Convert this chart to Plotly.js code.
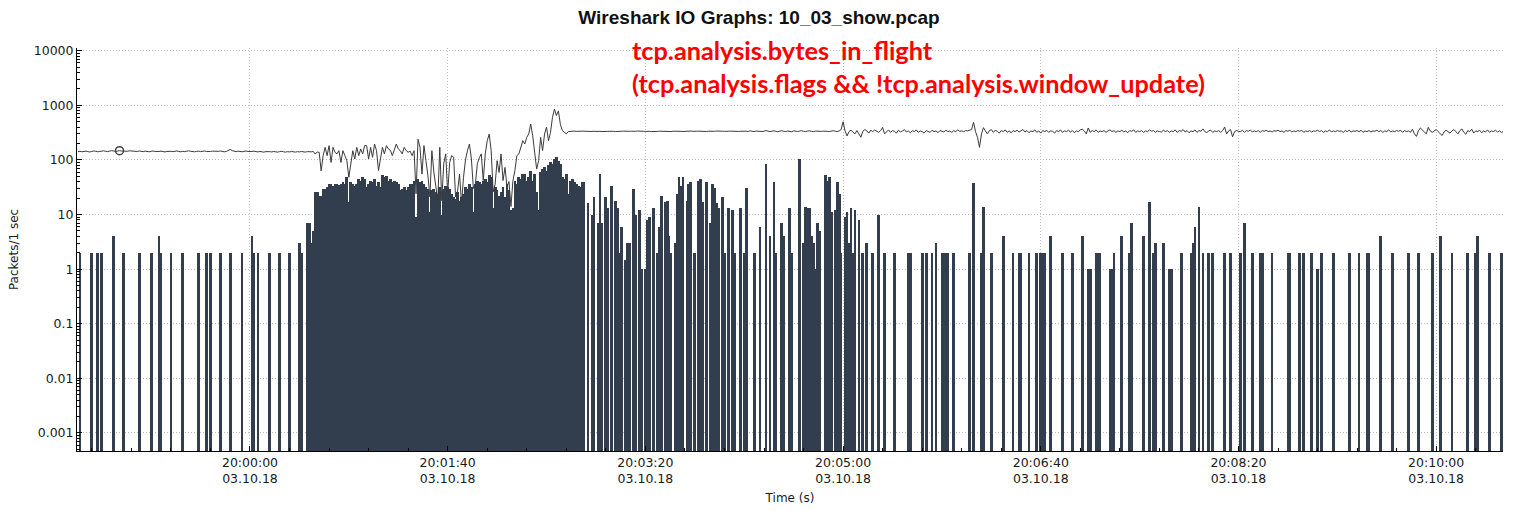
<!DOCTYPE html>
<html><head><meta charset="utf-8">
<script src="https://cdn.plot.ly/plotly-3.0.1.min.js"></script>
<style>html,body{margin:0;padding:0;background:#fff}#chart{width:1518px;height:511px}</style>
</head><body><div id="chart"></div>
<script>
// ---- data (time in seconds relative to 20:00:00, 03.10.18) ----
const chartTitle = 'Wireshark IO Graphs: 10_03_show.pcap';
const noteLines = ['tcp.analysis.bytes_in_flight', '(tcp.analysis.flags &amp;&amp; !tcp.analysis.window_update)'];
const xTickSeconds = [0, 100, 200, 300, 400, 500, 600];
const xTickLabels = ['20:00:00<br>03.10.18', '20:01:40<br>03.10.18', '20:03:20<br>03.10.18', '20:05:00<br>03.10.18', '20:06:40<br>03.10.18', '20:08:20<br>03.10.18', '20:10:00<br>03.10.18'];
const yTickValues = [0.001, 0.01, 0.1, 1, 10, 100, 1000, 10000];
const yTickLabels = ['0.001', '0.01', '0.1', '1', '10', '100', '1000', '10000'];

// Bars: packets per 1 s interval
const earlyBarTimes  = [-86,-80,-77,-75,-69,-64,-56,-50,-46,-45,-40,-34,-26,-22,-20,-15,-10,-4,1,2,4,10,15,20,25,26,29,30,31,32];
const earlyBarValues = [2,2,2,2,4,2,2,2,4,2,2,2,2,2,2,2,2,2,4,2,2,2,2,2,3,2,7,7,3,5];

const denseBarStart = 33;
const denseBarValues = [
  26,26,22,22,29,29,32,36,36,34,
  36,37,35,36,39,36,48,17,39,36,
  34,36,45,42,48,45,32,36,42,39,
  45,34,39,32,52,48,50,42,45,39,
  42,39,36,28,29,32,28,32,36,36,
  42,9,45,39,42,36,32,29,11,28,
  29,26,24,32,10,29,34,32,29,24,
  21,19,26,18,21,24,32,29,36,32,
  11,36,42,39,36,42,45,39,52,48,
  13,32,28,22,26,32,21,36,28,12,
  13,42,36,48,
  45,55,55,42,48,64,42,55,26,12,
  59,68,73,64,82,90,85,104,112,97,
  85,48,45,55,24,42,45,39,36,34,
  32,39,39
];

const lateBarTimes = [
  171,173,174,176,177,178,180,181,183,185,
  186,187,188,190,191,192,194,195,197,198,
  200,201,202,204,206,207,208,210,211,212,
  213,215,216,217,218,219,221,222,223,225,
  227,228,229,231,233,234,235,236,237,239,
  240,242,244,245,248,250,251,255,258,261,
  263,265,266,269,270,273,274,278,280,281,
  282,283,284,285,286,287,288,291,292,293,
  294,296,297,298,299,301,302,303,304,305,
  306,308,310,312,315,318,321,326,333,334,
  340,342,345,347,350,351,352,353,356,364,
  366,370,371,375,381,386,389,390,394,398,
  400,401,402,405,411,416,421,424,425,428,
  429,430,435,436,437,441,445,446,452,455,
  457,458,462,465,466,471,476,477,478,480,
  482,485,487,493,496,501,503,507,511,512,
  517,525,526,531,533,537,540,542,548,556,
  561,565,566,572,578,586,591,598,602,608,
  616,620,621,627,633
];
const lateBarValues = [
  16,10,21,7,55,7,21,13,34,18,
  13,2,6,1.5,3,3,30,10,12,1,
  1,8,9,13,2,6,22,17,18,4,
  2,3,24,48,34,48,18,36,39,2,
  42,45,17,39,7,36,31,16,13,21,
  2,13,12,2,13,2,31,2,6,85,
  4,39,2,7,4,13,2,104,3,14,
  13,13,4,3,1,7,5,53,42,48,
  11,12,39,24,2,9,11,3,13,2,
  12,8,2,3,2,10,2,2,2,2,
  2,2,2,3,2,2,2,2,2,2,
  38,2,14,2,4,2,2,2,2,2,
  2,2,2,4,2,2,4,1,1,2,
  2,2,1,1,2,4,2,7,4,17,
  2,3,3,1,1,2,2,3,6,14,
  2,2,2,2,2,2,7,2,2,2,
  2,2,2,2,2,2,1,2,2,2,
  2,2,2,4,2,2,2,2,4,2,
  2,2,4,2,2
];

// Line: one value per second from lineStart
const lineStart = -87;
const lineFlatStart = [
  142,144,141,143,145,142,140,143,146,144,
  141,143,145,147,144,142,145,148,146,143,
  145,148,146,144,142,144,147,145,143,141,
  143,146,144,142,145,143,141,144,146,143,
  141,143,145,142,140,143,145,144,142,144,
  146,143,141,144,142,145,147,144,142,141,
  143,145,142,144,146,143,141,143,145,144,
  142,144,146,143,141,143,150,156,148,144,
  142,145,143,141,144,146,143,141,143,145,
  142,140,143,141,139,142,144,142,140,143,
  141,139,142,144,141,139,142,140,143,141,
  139,142,140,143,141,139,142,140,141,143,
  128,140
];
const lineBurst = [
  138,63,120,170,120,183,90,170,138,129,
  148,90,148,120,97,48,85,148,104,170,
  120,159,129,183,183,104,170,112,196,148,
  64,110,170,129,183,159,150,120,148,196,
  160,148,129,170,148,138,145,120,148,24,
  240,170,55,183,97,52,21,148,60,32,
  18,170,18,85,129,24,90,120,112,21,
  27,55,16,48,100,148,196,104,30,36,
  85,110,129,42,129,225,298,148,26,36,
  97,59,129,42,73,32,40,14,42,64,
  120,129,170,225,196,259,300,455,278,148,
  68,97,259,148,298,400,225,320,600,855,
  650,790,450,345,320,300
];
const lineFlatEnd = [
  330,336,333,338,334,331,335,337,333,336,
  334,332,336,335,333,337,334,331,335,336,
  333,335,338,334,332,336,333,335,337,334,
  331,334,336,333,335,338,334,332,335,333,
  336,334,331,335,337,333,336,334,332,335,
  338,334,331,336,333,335,337,334,332,336,
  333,335,338,334,331,335,336,333,337,334,
  332,336,334,331,335,338,334,333,336,334,
  331,335,337,334,332,336,333,335,338,334,
  336,331,342,335,330,338,334,340,332,336,
  345,338,330,336,342,334,328,337,343,335,
  331,339,334,328,341,336,332,338,344,335,
  330,337,342,334,329,338,335,341,333,337,
  340,334,331,338,343,336,332,339,360,500,
  340,275,330,350,320,300,345,290,260,335,
  360,340,310,350,330,355,340,320,345,395,
  300,330,355,320,345,335,310,350,325,340,
  360,325,340,315,345,330,355,320,340,330,
  310,345,335,320,350,330,340,315,345,335,
  325,350,330,340,320,345,330,355,335,340,
  330,345,340,350,360,490,330,260,170,300,
  390,340,300,345,360,320,350,335,310,345,
  330,355,320,340,315,345,330,350,325,340,
  360,325,345,315,340,330,355,320,340,310,
  345,330,350,320,340,335,310,345,330,355,
  320,340,330,350,325,345,315,340,330,355,
  365,340,300,385,320,345,330,355,320,340,
  330,345,320,340,355,330,345,320,340,330,
  350,325,340,315,345,335,355,320,340,330,
  345,320,340,330,355,335,345,320,340,330,
  325,350,330,345,320,340,330,355,320,345,
  335,360,325,345,315,340,330,355,320,345,
  335,370,330,315,345,350,320,340,330,345,
  320,345,400,300,340,360,265,330,345,335,
  330,350,320,345,335,355,325,340,330,345,
  320,345,335,350,330,340,325,345,335,350,
  330,340,320,345,335,350,325,340,330,345,
  335,350,320,340,330,345,325,340,335,350,
  330,345,320,340,330,355,325,340,330,345,
  335,340,320,345,330,350,325,340,335,345,
  330,350,320,340,330,345,325,340,335,350,
  330,345,320,340,330,355,325,340,330,345,
  335,350,320,345,330,340,320,365,300,270,
  340,385,350,320,300,395,340,320,345,360,
  330,300,280,325,350,330,310,340,360,330,
  300,345,370,320,295,345,330,365,310,340,
  330,350,315,340,325,355,320,340,330,350,
  325,340,320,330
];
const markedTime = -66;

// ---- build traces ----
const barTimes = earlyBarTimes.concat(denseBarValues.map((_, i) => denseBarStart + i), lateBarTimes);
const barValues = earlyBarValues.concat(denseBarValues, lateBarValues);
const lineValues = lineFlatStart.concat(lineBurst, lineFlatEnd);
const lineTimes = lineValues.map((_, i) => lineStart + i);

const minorY = [];
for (let d = -4; d <= 4; d++) for (let k = 2; k <= 9; k++) minorY.push(k * Math.pow(10, d));

const FONT = '"DejaVu Sans", Verdana, sans-serif';
const TITLE_FONT = '"Liberation Sans", Arial, Helvetica, sans-serif';
const traces = [
  { type: 'bar', x: barTimes, y: barValues, width: 1.4,
    marker: { color: '#323d4e', line: { width: 0 } }, hoverinfo: 'skip' },
  { type: 'scatter', mode: 'lines', x: lineTimes, y: lineValues,
    line: { color: '#3a3a3a', width: 1 }, hoverinfo: 'skip' },
  { type: 'scatter', mode: 'markers', x: [markedTime], y: [lineValues[markedTime - lineStart]],
    marker: { symbol: 'circle-open', size: 8, color: '#444', line: { width: 1.5 } }, hoverinfo: 'skip' }
];

const GRID = '#bdbdbd';
const layout = {
  width: 1518, height: 511,
  margin: { l: 77, r: 15, t: 48, b: 60 },
  paper_bgcolor: '#fff', plot_bgcolor: '#fff',
  showlegend: false, bargap: 0,
  font: { family: FONT, color: '#1a1a1a' },
  title: { text: '<b>' + chartTitle + '</b>', x: 0.5, xref: 'container', y: 0.966, yref: 'container',
           yanchor: 'middle', font: { family: TITLE_FONT, size: 19, color: '#111' } },
  xaxis: {
    range: [-87.5, 633.8], tickmode: 'array', tickvals: xTickSeconds, ticktext: xTickLabels,
    ticks: 'inside', ticklen: 5, tickcolor: '#000', showline: true, linecolor: '#000', linewidth: 1,
    showgrid: true, gridcolor: GRID, griddash: '1px,2px', gridwidth: 1, zeroline: false,
    tickfont: { family: FONT, size: 12.5, color: '#1a1a1a' },
    minor: { tickmode: 'linear', tick0: 0, dtick: 20, ticks: 'inside', ticklen: 3, tickcolor: '#000', showgrid: false },
    title: { text: 'Time (s)', font: { family: FONT, size: 12, color: '#1a1a1a' }, standoff: 8 }
  },
  yaxis: {
    type: 'log', range: [-3.33, 4.05], tickmode: 'array', tickvals: yTickValues, ticktext: yTickLabels,
    ticks: 'inside', ticklen: 5, tickcolor: '#000', showline: true, linecolor: '#000', linewidth: 1,
    showgrid: true, gridcolor: GRID, griddash: '1px,2px', gridwidth: 1, zeroline: false,
    tickfont: { family: FONT, size: 12.5, color: '#1a1a1a' },
    minor: { tickmode: 'array', tickvals: minorY, ticks: 'inside', ticklen: 3, tickcolor: '#000', showgrid: false },
    title: { text: 'Packets/1 sec', font: { family: FONT, size: 12, color: '#1a1a1a' }, standoff: 12 }
  },
  annotations: [
    { text: '<b>' + noteLines[0] + '</b>', xref: 'paper', yref: 'paper', x: 0.3878, y: 0.995,
      xanchor: 'left', yanchor: 'middle', showarrow: false,
      font: { family: 'Lato, "Open Sans", sans-serif', size: 25.3, color: '#ff0000' } },
    { text: '<b>' + noteLines[1] + '</b>', xref: 'paper', yref: 'paper', x: 0.3878, y: 0.913,
      xanchor: 'left', yanchor: 'middle', showarrow: false,
      font: { family: 'Lato, "Open Sans", sans-serif', size: 25.3, color: '#ff0000' } }
  ]
};

Plotly.newPlot('chart', traces, layout, { displayModeBar: false, staticPlot: true });
</script>
</body></html>
